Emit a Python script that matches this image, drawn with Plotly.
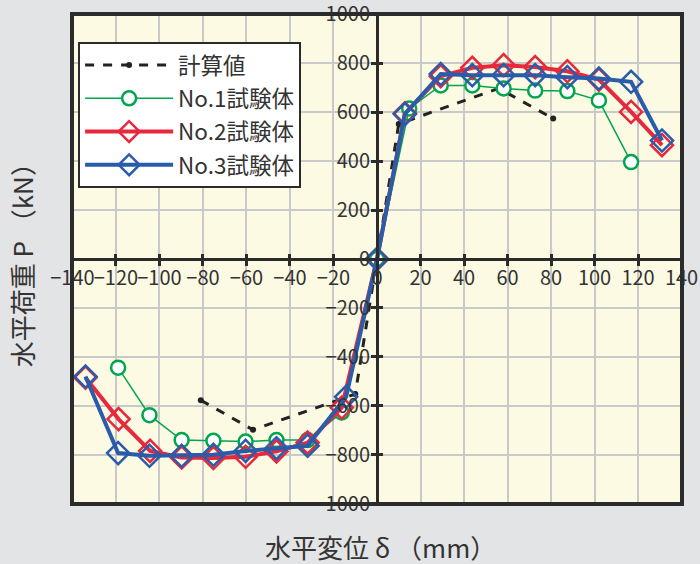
import plotly.graph_objects as go

# ---- data ----
calc_x = [-81, -57, -10, 0, 10, 56, 81]
calc_y = [-577, -698, -552, 0, 552, 697, 574]

no1_x = [-119, -104.6, -89.8, -75.2, -60.4, -46.2, -31.9, -16.2, 0, 14.8, 29.3, 43.8, 58.2, 72.7, 87.5, 102, 116.8]
no1_y = [-444, -638, -740, -743, -746, -740, -740, -627, 0, 615, 709, 709, 697, 688, 686, 648, 396]

no2_x = [-134, -118.8, -104.3, -89.8, -75.2, -60.4, -46.2, -31.9, -16.2, 0, 12.8, 29.3, 43.8, 58.2, 72.7, 87.5, 102, 116.8, 131]
no2_y = [-485, -654, -784, -811, -813, -808, -786, -750, -607, 0, 595, 747, 781, 792, 784, 767, 733, 601, 465]

no3_x = [-134, -119, -104.6, -89.8, -75.2, -60.4, -46.2, -31.9, -14.2, 0, 12.8, 29.3, 43.8, 58.2, 72.7, 87.5, 102, 116.8, 131]
no3_y = [-480, -793, -804, -804, -800, -784, -773, -763, -563, 0, 592, 756, 751, 751, 751, 743, 737, 724, 484]

x_ticks = list(range(-140, 141, 20))
y_ticks = list(range(-1000, 1001, 200))

names = ["計算値", "No.1試験体", "No.2試験体", "No.3試験体"]

FONT = "Noto Sans CJK JP, Noto Sans, sans-serif"
DARK = "#2b2b2b"
TXT = "#333333"

fig = go.Figure()
fig.add_trace(go.Scatter(x=calc_x, y=calc_y, name=names[0], mode="lines+markers",
                         legendgroup="a",
                         line=dict(color="#222222", width=3, dash="dash"),
                         marker=dict(size=6, color="#222222")))
fig.add_trace(go.Scatter(x=no1_x, y=no1_y, name=names[1], mode="lines+markers",
                         legendgroup="b",
                         line=dict(color="#00a550", width=1.5),
                         marker=dict(symbol="circle", size=14, color="white",
                                     line=dict(color="#00a550", width=2.5))))
fig.add_trace(go.Scatter(x=no2_x, y=no2_y, name=names[2], mode="lines+markers",
                         legendgroup="c",
                         line=dict(color="#e8283c", width=4),
                         marker=dict(symbol="diamond-open", size=17,
                                     line=dict(color="#e8283c", width=2.5))))
fig.add_trace(go.Scatter(x=no3_x, y=no3_y, name=names[3], mode="lines+markers",
                         legendgroup="d",
                         line=dict(color="#2a5caa", width=4),
                         marker=dict(symbol="diamond-open", size=17,
                                     line=dict(color="#2a5caa", width=2.5))))

# secondary invisible trace for the other-side ticks
fig.add_trace(go.Scatter(x=[0], y=[0], xaxis="x2", yaxis="y2", mode="markers",
                         marker=dict(opacity=0), showlegend=False, hoverinfo="skip"))

common_tick = dict(tickfont=dict(family=FONT, size=20, color=TXT))

fig.update_layout(
    width=700, height=564,
    margin=dict(l=72, r=18, t=14, b=60, autoexpand=False),
    paper_bgcolor="#e3e4e6",
    plot_bgcolor="#fcfae2",
    font=dict(family=FONT, color=TXT),
    showlegend=True,
    legend=dict(x=0.01, y=0.943, xanchor="left", yanchor="top",
                bgcolor="white", bordercolor=DARK, borderwidth=2,
                font=dict(family=FONT, size=22.5, color=TXT),
                itemwidth=88, tracegroupgap=1),
    xaxis=dict(range=[-140.2, 140.2], tickvals=x_ticks, anchor="free", position=0.5,
               automargin=False, tickangle=0, ticklabeloverflow="allow",
               showgrid=True, gridcolor="#c9c9c9", gridwidth=1.5, zeroline=False,
               showline=True, linecolor=DARK, linewidth=3,
               ticks="outside", ticklen=5, tickwidth=3, tickcolor=DARK,
               ticklabelstandoff=-5, **common_tick),
    yaxis=dict(range=[-1001, 1001], tickvals=y_ticks, anchor="free", position=0.5,
               automargin=False, ticklabeloverflow="allow",
               showgrid=True, gridcolor="#c9c9c9", gridwidth=1.5, zeroline=False,
               showline=True, linecolor=DARK, linewidth=3,
               ticks="outside", ticklen=5, tickwidth=3, tickcolor=DARK,
               ticklabelstandoff=-3, **common_tick),
    xaxis2=dict(range=[-140.2, 140.2], tickvals=x_ticks, overlaying="x", anchor="free",
                position=0.5, showgrid=False, zeroline=False, showticklabels=False,
                automargin=False,
                ticks="inside", ticklen=5, tickwidth=3, tickcolor=DARK),
    yaxis2=dict(range=[-1001, 1001], tickvals=y_ticks, overlaying="y", anchor="free",
                position=0.5, showgrid=False, zeroline=False, showticklabels=False,
                automargin=False,
                ticks="inside", ticklen=5, tickwidth=3, tickcolor=DARK),
    shapes=[dict(type="rect", xref="paper", yref="paper", x0=0, x1=1, y0=0, y1=1,
                 line=dict(color=DARK, width=4), layer="above")],
    annotations=[
        dict(text="水平変位 δ （mm）", xref="paper", yref="paper", x=0.505, y=-0.086,
             xanchor="center", yanchor="middle", showarrow=False,
             font=dict(family=FONT, size=26, color=TXT)),
        dict(text="水平荷重 P （kN）", xref="paper", yref="paper", x=-0.083, y=0.5,
             xanchor="center", yanchor="middle", showarrow=False, textangle=-90,
             font=dict(family=FONT, size=26, color=TXT)),
    ],
)

fig.write_html("out.html", config={"displayModeBar": False},
               post_script="document.body.style.margin='0';document.body.style.padding='0';")
